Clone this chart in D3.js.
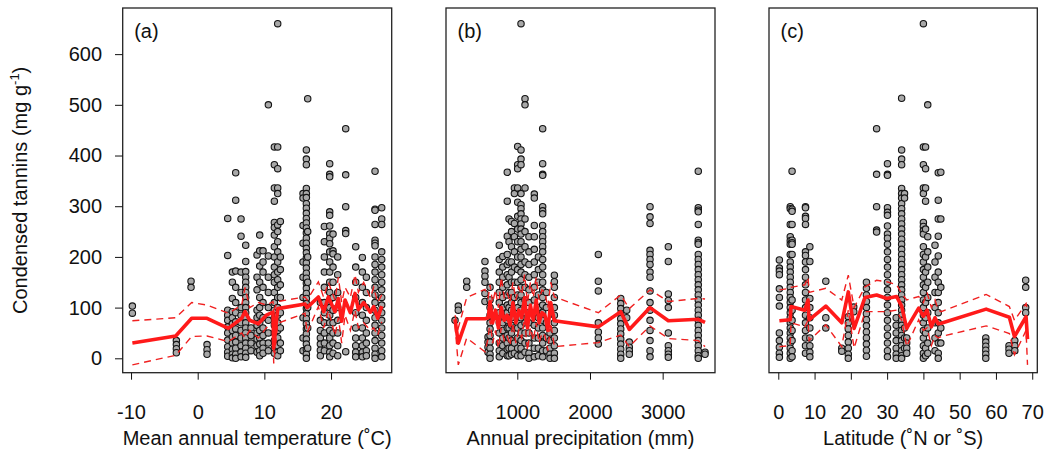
<!DOCTYPE html>
<html lang="en">
<head>
<meta charset="UTF-8" />
<title>Condensed tannins vs climate</title>
<script src="https://d3js.org/d3.v7.min.js"></script>
<style>
  body { margin: 0; background: #fff; }
  svg { font-family: "Liberation Sans", Arial, sans-serif; }
  .tick text { font-size: 20px; fill: #111; }
  .tick line { stroke: #111; }
</style>
</head>
<body>
<div id="chart"></div>
<script>
// each column: [x, tannin values...]
const tempCols = [
  [-9.8, 103, 89],
  [-3.2, 35, 27, 19, 11],
  [-1.0, 152, 140],
  [1.4, 27, 17, 8],
  [4.5, 276, 203, 95, 85, 75, 62, 50, 36, 23, 12, 4],
  [5.2, 170, 150, 118, 92, 80, 68, 55, 42, 30, 18, 8, 1],
  [5.7, 366, 312, 172, 140, 110, 90, 72, 58, 45, 32, 20, 8, 0],
  [6.5, 275, 241, 170, 130, 100, 85, 70, 55, 40, 25, 12, 3],
  [7.2, 223, 191, 171, 160, 150, 140, 130, 120, 110, 100, 90, 80, 70, 60, 50, 40, 30, 20, 10, 2],
  [8.0, 60, 45, 30, 15],
  [8.9, 204, 160, 135, 95, 80, 65, 50, 38, 25, 12],
  [9.3, 243, 212, 182, 150, 120, 100, 85, 70, 55, 40, 28, 15, 5],
  [9.8, 212, 190, 170, 140, 110, 80, 60, 45, 30, 20, 10],
  [10.6, 500, 202, 160, 130, 100, 75, 50, 30, 15],
  [11.5, 417, 382, 336, 310, 268, 258, 243, 220, 200, 180, 165, 150, 130, 110, 95, 80, 65, 50, 35, 20, 10],
  [12.0, 660, 417, 374, 336, 325, 263, 250, 230, 210, 190, 170, 155, 140, 120, 100, 85, 70, 55, 40, 25, 12, 5],
  [12.4, 270, 200, 175, 145, 120, 90, 60, 30, 15],
  [15.8, 325, 316, 262, 227, 190, 160, 120, 80, 40, 15],
  [16.3, 411, 393, 382, 335, 325, 317, 305, 296, 286, 276, 267, 257, 247, 237, 227, 217, 208, 198, 188, 178, 168, 158, 148, 138, 128, 118, 108, 98, 88, 78, 68, 58, 48, 38, 28, 18, 8, 0],
  [16.5, 512, 250, 200, 150, 100, 60, 20],
  [18.4, 110, 75, 55, 40, 28, 16, 5],
  [19.0, 260, 230, 200, 170, 140, 110, 90, 70, 50, 30, 15],
  [19.8, 384, 363, 358, 289, 282, 261, 245, 237, 226, 210, 190, 170, 150, 130, 115, 100, 85, 70, 55, 40, 25, 12, 3],
  [20.3, 245, 212, 206, 180, 150, 120, 95, 70, 50, 30, 10],
  [21.0, 200, 165, 130, 100, 75, 50, 25, 5],
  [22.2, 453, 362, 299, 252, 246, 13],
  [23.7, 220, 180, 150, 120, 90, 60, 40, 25, 12, 3],
  [24.7, 199, 170, 140, 110, 85, 60, 40, 25, 12, 3],
  [25.3, 160, 130, 100, 75, 50, 30, 15, 5],
  [26.6, 369, 294, 292, 264, 233, 227, 222, 200, 185, 170, 155, 140, 125, 110, 95, 80, 65, 50, 35, 20, 8, 0],
  [27.6, 297, 275, 264, 210, 195, 180, 165, 150, 135, 120, 105, 90, 75, 60, 45, 30, 15, 3]
];

const precCols = [
  [143, 75],
  [188, 103, 95],
  [304, 152, 140],
  [555, 191, 172, 162, 150, 128, 112],
  [597, 42, 32, 22, 12],
  [625, 140, 115, 100, 85, 70, 58, 45, 32, 20, 8, 0],
  [752, 223, 195, 170, 150, 130, 110, 90, 70, 50, 30, 15, 3],
  [800, 201, 180, 160, 140, 120, 100, 85, 70, 55, 40, 25, 10],
  [862, 367, 310, 241, 205, 185, 165, 145, 125, 105, 90, 75, 60, 45, 30, 18, 5],
  [886, 275, 230, 190, 160, 130, 100, 80, 60, 40, 20, 5],
  [920, 270, 250, 220, 190, 170, 150, 130, 110, 95, 80, 65, 50, 35, 20, 8],
  [960, 336, 325, 266, 240, 210, 180, 150, 120, 90, 60, 30, 10],
  [1005, 418, 382, 374, 336, 308, 280, 255, 230, 200, 175, 150, 125, 100, 80, 60, 40, 20, 5],
  [1051, 660, 411, 393, 382, 325, 303, 295, 285, 275, 265, 255, 245, 230, 215, 200, 185, 170, 155, 140, 125, 110, 95, 80, 65, 50, 35, 20, 5],
  [1106, 512, 500, 336, 275, 250, 220, 190, 165, 140, 115, 90, 70, 50, 30, 12],
  [1160, 240, 210, 185, 160, 135, 110, 90, 70, 50, 30, 10, 0],
  [1234, 324, 316, 262, 240, 215, 190, 165, 140, 115, 90, 65, 40, 20, 3],
  [1290, 200, 175, 150, 125, 100, 80, 60, 40, 20, 5],
  [1349, 453, 384, 363, 361, 299, 291, 285, 262, 250, 240, 230, 220, 210, 195, 180, 165, 150, 135, 120, 105, 90, 75, 60, 45, 30, 15, 3],
  [1400, 130, 100, 70, 40, 15],
  [1450, 50, 35, 20, 8, 0],
  [1510, 164, 151, 140, 120, 100, 85, 70, 55, 40, 25, 10, 0],
  [2115, 205, 152, 133, 70, 52, 40, 28],
  [2423, 118, 108, 98, 88, 78, 68, 58, 48, 38, 28, 18, 8, 0],
  [2505, 95, 80],
  [2541, 32, 22, 15, 8],
  [2826, 299, 279, 266, 213, 205, 195, 185, 170, 160, 133, 110, 95, 75, 55, 35, 15, 3],
  [3078, 220, 191, 127, 114, 100, 50, 25, 15, 8, 2],
  [3490, 369, 297, 292, 289, 264, 233, 228, 225, 205, 195, 185, 175, 165, 155, 145, 135, 125, 115, 105, 95, 85, 75, 65, 55, 45, 35, 25, 15, 5, 0],
  [3583, 12, 8]
];

const latCols = [
  [0.3, 194, 178, 172, 165, 137, 120, 103, 50, 35, 22, 10, 2],
  [3.3, 299, 295, 264, 240, 232, 225, 205, 190, 180, 170, 160, 150, 140, 130, 120, 110, 100, 90, 80, 70, 60, 50, 40, 30, 20, 10, 0],
  [3.8, 369, 294, 290, 264, 233, 228, 225, 205, 115, 95, 75, 55, 35, 15, 3],
  [7.5, 299, 297, 280, 276, 264, 210, 203, 190, 175, 160, 145, 130, 115, 100, 85, 70, 55, 40, 25, 10],
  [8.7, 220, 191, 118, 100, 80, 60, 40, 25, 12, 3],
  [13.1, 152, 80, 60],
  [17.5, 20, 14],
  [19.3, 82, 70, 58, 45, 32, 20, 8, 0],
  [20.8, 101, 92],
  [24.3, 150, 138, 125, 112, 100, 88, 76, 64, 52, 40, 28, 16, 4],
  [27.1, 453, 363, 299, 253, 249],
  [30.1, 384, 363, 361, 297, 288, 282, 261, 245, 237, 225, 210, 195, 180, 165, 150, 135, 120, 105, 90, 75, 60, 45, 30, 15, 3],
  [32.5, 80, 65, 50, 35, 20, 8, 0],
  [34.0, 513, 411, 393, 382, 335, 325, 316, 305, 295, 285, 275, 265, 255, 245, 235, 225, 215, 205, 195, 185, 175, 165, 155, 145, 135, 125, 115, 105, 95, 85, 75, 65, 55, 45, 35, 25, 15, 5, 0],
  [34.8, 325, 316, 60, 40, 20],
  [35.4, 40, 30, 20, 10],
  [40.0, 660, 417, 382, 336, 325, 268, 260, 252, 245, 220, 205, 190, 175, 160, 145, 130, 115, 100, 85, 70, 55, 40, 25, 10, 0],
  [40.6, 417, 374, 336, 310, 255, 200, 170, 140, 110, 80, 50, 20, 5],
  [41.2, 500, 240, 210, 180, 150, 120, 90, 60, 30, 10],
  [43.2, 223, 190, 160, 130, 100, 70, 40, 15],
  [44.1, 366, 312, 275, 241, 202, 170, 150, 130, 110, 90, 70, 50, 30, 10, 0],
  [44.8, 367, 275, 140, 60, 30],
  [57.2, 40, 32, 24, 16, 8, 0],
  [63.6, 25, 18, 10],
  [65.2, 35, 25, 15],
  [68.2, 154, 140, 100, 90]
];

// fitted means and dashed bands
const tempFitX = [-9.8, -3.3, -0.9, 1.4, 4.6, 6.6, 7.1, 7.8, 9.1, 10.3, 11.3, 11.4, 12.0, 16.1, 16.4, 18.1, 18.9, 19.6, 20.6, 21.1, 21.6, 22.1, 22.9, 23.6, 24.1, 24.9, 25.9, 26.4, 27.0, 27.6];
const tempFit  = [30, 44, 79, 79, 59, 79, 92, 75, 68, 85, 91, 20, 98, 107, 100, 121, 92, 121, 92, 118, 73, 115, 90, 128, 96, 110, 91, 102, 79, 103];
const tempHi   = [74, 80, 110, 105, 89, 105, 140, 100, 110, 105, 112, 95, 112, 121, 115, 151, 120, 150, 115, 160, 110, 140, 120, 165, 130, 150, 120, 140, 110, 125];
const tempLo   = [-13, 6, 43, 44, 33, 50, 40, 55, 40, 60, 69, -10, 69, 89, 50, 102, 60, 95, 45, 80, 30, 85, 55, 95, 60, 70, 55, 60, 45, 72];

const precFitX = [143, 188, 304, 555, 600, 625, 660, 700, 740, 780, 820, 860, 900, 940, 980, 1020, 1060, 1100, 1140, 1180, 1220, 1260, 1300, 1340, 1380, 1420, 1460, 1510, 2115, 2423, 2541, 2826, 3078, 3490, 3583];
const precFit  = [77, 30, 78, 78, 80, 112, 70, 95, 60, 100, 75, 85, 65, 110, 70, 95, 80, 120, 60, 105, 75, 115, 70, 90, 85, 55, 110, 74, 62, 92, 57, 100, 74, 77, 71];
const precHi   = [85, 60, 120, 136, 120, 145, 110, 135, 100, 160, 120, 130, 110, 150, 115, 140, 125, 165, 110, 150, 120, 160, 115, 135, 130, 100, 150, 121, 90, 125, 98, 135, 112, 118, 117];
const precLo   = [65, -13, 40, 13, 40, 75, 30, 55, 20, 60, 35, 45, 25, 70, 30, 55, 40, 80, 15, 60, 35, 70, 30, 50, 45, 15, 70, 23, 31, 46, 23, 64, 39, 35, 23];

const latFitX = [0.3, 3.3, 3.5, 7.3, 8.2, 8.5, 13.1, 17.5, 19.3, 20.9, 23.9, 27.1, 29.9, 32.6, 34.0, 35.4, 38.7, 40.0, 41.0, 42.2, 43.2, 44.1, 44.9, 57.3, 63.7, 65.1, 68.3, 68.7];
const latFit  = [74, 76, 102, 95, 115, 76, 103, 70, 131, 59, 120, 125, 118, 122, 103, 59, 99, 83, 95, 62, 80, 68, 69, 97, 81, 43, 82, 38];
const latHi   = [135, 138, 140, 145, 160, 130, 138, 115, 164, 100, 141, 154, 151, 145, 128, 115, 122, 110, 130, 100, 115, 95, 92, 126, 102, 75, 108, 95];
const latLo   = [23, 25, 70, 62, 75, 35, 66, 23, 95, 20, 92, 92, 92, 95, 75, 23, 76, 55, 60, 25, 45, 40, 43, 64, 49, 7, 55, -13];

const yTicks = [0, 100, 200, 300, 400, 500, 600];
const tempTicks = [-10, 0, 10, 20];
const precTicks = [1000, 2000, 3000];
const latTicks = [0, 10, 20, 30, 40, 50, 60, 70];

const W = 1044, H = 453;
const plotTop = 8, plotBottom = 372.7;

const svg = d3.select("#chart").append("svg")
  .attr("width", W).attr("height", H);

const y = d3.scaleLinear().domain([-28.4, 691]).range([plotBottom, plotTop]);

const panels = [
  { label: "(a)", cols: tempCols, fx: tempFitX, fit: tempFit, lo: tempLo, hi: tempHi,
    ticks: tempTicks, domain: [-11.25, 29.1], range: [122.7, 391.7],
    title: "Mean annual temperature (\u02DAC)" },
  { label: "(b)", cols: precCols, fx: precFitX, fit: precFit, lo: precLo, hi: precHi,
    ticks: precTicks, domain: [19, 3720], range: [446, 715],
    title: "Annual precipitation (mm)" },
  { label: "(c)", cols: latCols, fx: latFitX, fit: latFit, lo: latLo, hi: latHi,
    ticks: latTicks, domain: [-2.56, 71.4], range: [769, 1037.3],
    title: "Latitude (\u02DAN or \u02DAS)" }
];

panels.forEach((p, i) => {
  const x = d3.scaleLinear().domain(p.domain).range(p.range);
  const g = svg.append("g");

  // points
  const pts = [];
  p.cols.forEach(c => c.slice(1).forEach(v => pts.push([c[0], v])));
  g.selectAll("circle").data(pts).enter().append("circle")
    .attr("cx", d => x(d[0]))
    .attr("cy", d => y(d[1]))
    .attr("r", 3.2)
    .attr("fill", "#a8a8a8")
    .attr("stroke", "#141414")
    .attr("stroke-width", 1.1);

  // dashed bands
  [p.lo, p.hi].forEach(arr => {
    g.append("path")
      .datum(p.fx.map((v, k) => [v, arr[k]]))
      .attr("fill", "none")
      .attr("stroke", "#f02020")
      .attr("stroke-width", 1.4)
      .attr("stroke-dasharray", "7,5")
      .attr("d", d3.line().x(d => x(d[0])).y(d => y(d[1])));
  });

  // fitted line
  g.append("path")
    .datum(p.fx.map((v, k) => [v, p.fit[k]]))
    .attr("fill", "none")
    .attr("stroke", "#ff1a1a")
    .attr("stroke-width", 3.6)
    .attr("stroke-linejoin", "round")
    .attr("d", d3.line().x(d => x(d[0])).y(d => y(d[1])));

  // box
  svg.append("rect")
    .attr("x", p.range[0]).attr("y", plotTop)
    .attr("width", p.range[1] - p.range[0]).attr("height", plotBottom - plotTop)
    .attr("fill", "none").attr("stroke", "#222").attr("stroke-width", 1.3);

  // x axis
  const xa = svg.append("g")
    .attr("transform", `translate(0,${plotBottom})`)
    .call(d3.axisBottom(x).tickValues(p.ticks).tickSize(7).tickPadding(25).tickFormat(d3.format("d")));
  xa.select(".domain").remove();
  xa.selectAll(".tick text").text(d => d < 0 ? "-" + Math.abs(d) : d);

  // x title
  svg.append("text")
    .attr("x", (p.range[0] + p.range[1]) / 2)
    .attr("y", 445)
    .attr("text-anchor", "middle")
    .attr("font-size", 20)
    .attr("fill", "#111")
    .text(p.title);

  // panel label
  svg.append("text")
    .attr("x", p.range[0] + 11.5)
    .attr("y", 38)
    .attr("font-size", 20)
    .attr("fill", "#111")
    .text(p.label);

  if (i === 0) {
    const ya = svg.append("g")
      .attr("transform", `translate(${p.range[0]},0)`)
      .call(d3.axisLeft(y).tickValues(yTicks).tickSize(7.7).tickPadding(13));
    ya.select(".domain").remove();
  }
});

// y title
const yt = svg.append("text")
  .attr("transform", `translate(27,${(plotTop + plotBottom) / 2}) rotate(-90)`)
  .attr("text-anchor", "middle")
  .attr("font-size", 20)
  .attr("fill", "#111");
yt.append("tspan").text("Condensed tannins (mg g");
yt.append("tspan").attr("font-size", 13).attr("dy", -8).text("-1");
yt.append("tspan").attr("dy", 8).text(")");
</script>
</body>
</html>
